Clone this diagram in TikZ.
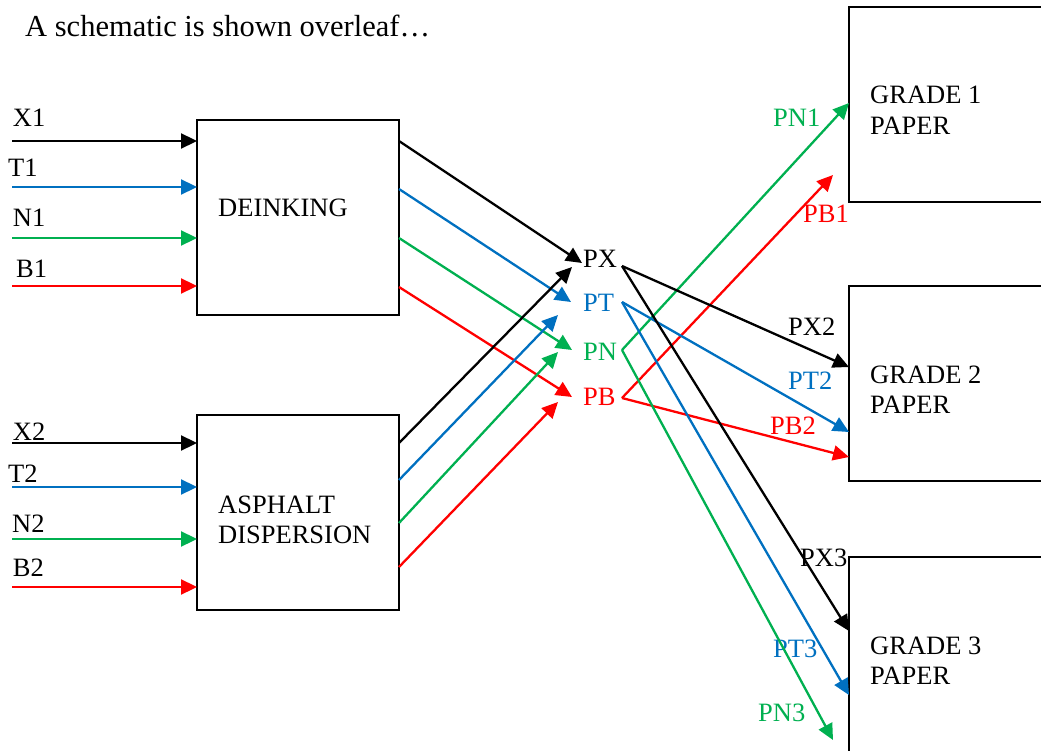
\documentclass[tikz,border=0pt]{standalone}
\usepackage{fontspec}
\setmainfont{Liberation Serif}
\usetikzlibrary{arrows.meta}
\definecolor{cblue}{HTML}{0070C0}
\definecolor{cgreen}{HTML}{00B050}
\definecolor{cred}{HTML}{FF0000}
\begin{document}
\begin{tikzpicture}[x=1pt,y=-1pt,
  box/.style={draw, line width=1.8pt, minimum width=202pt, minimum height=195pt, anchor=north west, inner sep=0pt, outer sep=0pt},
  gbox/.style={draw, line width=1.8pt, minimum width=240pt, minimum height=195pt, anchor=north west, inner sep=0pt, outer sep=0pt},
  lbl/.style={anchor=base west, inner sep=0pt, font=\fontsize{26.5}{30}\selectfont},
  flow/.style={line width=2.3pt, -{Triangle[length=16pt,width=15pt]}},
]
\useasboundingbox (0,0) rectangle (1041,751);
\clip (0,0) rectangle (1041,751);

% title
\node[anchor=base west, inner sep=0pt, font=\fontsize{30.5}{34}\selectfont] (title) at (25,36.5) {A schematic is shown overleaf\ldots};

% process boxes
\node[box] (dk) at (197,120) {};
\node[box] (as) at (197,415) {};
\node[lbl] (dkt) at (218,217) {DEINKING};
\node[lbl] (ast1) at (218,513) {ASPHALT};
\node[lbl] (ast2) at (218,543) {DISPERSION};

% grade boxes
\node[gbox] (g1) at (849,7) {};
\node[gbox] (g2) at (849,286) {};
\node[gbox] (g3) at (849,557) {};
\node[lbl] (g1a) at (870,104) {GRADE 1};
\node[lbl] (g1b) at (870,135) {PAPER};
\node[lbl] (g2a) at (870,383) {GRADE 2};
\node[lbl] (g2b) at (870,413) {PAPER};
\node[lbl] (g3a) at (870,654) {GRADE 3};
\node[lbl] (g3b) at (870,684) {PAPER};

% input labels
\node[lbl] (lX1) at (12.7,127) {X1};
\node[lbl] (lT1) at (8,177) {T1};
\node[lbl] (lN1) at (12.7,227) {N1};
\node[lbl] (lB1) at (16,277) {B1};
\node[lbl] (lX2) at (12.7,440) {X2};
\node[lbl] (lT2) at (8,482) {T2};
\node[lbl] (lN2) at (12,532) {N2};
\node[lbl] (lB2) at (12.7,576) {B2};

% pool labels
\node[lbl] (PX) at (583,268) {PX};
\node[lbl, text=cblue] (PT) at (583,312) {PT};
\node[lbl, text=cgreen] (PN) at (583,360) {PN};
\node[lbl, text=cred] (PB) at (583,405.5) {PB};

% output labels
\node[lbl, text=cgreen] (lPN1) at (773,127) {PN1};
\node[lbl, text=cred] (lPB1) at (803,223) {PB1};
\node[lbl] (lPX2) at (788,335) {PX2};
\node[lbl, text=cblue] (lPT2) at (788,389) {PT2};
\node[lbl, text=cred] (lPB2) at (770,434) {PB2};
\node[lbl] (lPX3) at (800,566) {PX3};
\node[lbl, text=cblue] (lPT3) at (773,657) {PT3};
\node[lbl, text=cgreen] (lPN3) at (758,721) {PN3};

% coordinates
\coordinate (iX1) at (12,141);
\coordinate (iT1) at (12,187);
\coordinate (iN1) at (12,238);
\coordinate (iB1) at (12,286);
\coordinate (iX2) at (12,443);
\coordinate (iT2) at (12,487);
\coordinate (iN2) at (12,539);
\coordinate (iB2) at (12,587);

\coordinate (oX1) at (399,141);
\coordinate (oT1) at (399,189);
\coordinate (oN1) at (399,238);
\coordinate (oB1) at (399,287);
\coordinate (oX2) at (399,443);
\coordinate (oT2) at (399,480);
\coordinate (oN2) at (399,523);
\coordinate (oB2) at (399,567);

\coordinate (tX1) at (582,263);
\coordinate (tX2) at (572,267);
\coordinate (tT1) at (571,302);
\coordinate (tT2) at (558,315);
\coordinate (tN1) at (572,350);
\coordinate (tN2) at (558,352);
\coordinate (tB1) at (572,397);
\coordinate (tB2) at (558,402);

\coordinate (sX) at (622,266);
\coordinate (sT) at (622,302);
\coordinate (sN) at (622,350);
\coordinate (sB) at (622,398);

\coordinate (ePN1) at (849,103);
\coordinate (ePB1) at (833,175);
\coordinate (ePX2) at (849,367);
\coordinate (ePT2) at (849,432);
\coordinate (ePB2) at (849,457);
\coordinate (ePX3) at (849,631);
\coordinate (ePT3) at (849,695);
\coordinate (ePN3) at (833,740);

% inputs
\draw[flow, black] (iX1) -- (iX1 -| dk.west);
\draw[flow, cblue] (iT1) -- (iT1 -| dk.west);
\draw[flow, cgreen] (iN1) -- (iN1 -| dk.west);
\draw[flow, cred] (iB1) -- (iB1 -| dk.west);
\draw[flow, black] (iX2) -- (iX2 -| as.west);
\draw[flow, cblue] (iT2) -- (iT2 -| as.west);
\draw[flow, cgreen] (iN2) -- (iN2 -| as.west);
\draw[flow, cred] (iB2) -- (iB2 -| as.west);

% process outputs to pools
\draw[flow, black] (oX1 -| dk.east) -- (tX1);
\draw[flow, cblue] (oT1 -| dk.east) -- (tT1);
\draw[flow, cgreen] (oN1 -| dk.east) -- (tN1);
\draw[flow, cred] (oB1 -| dk.east) -- (tB1);
\draw[flow, black] (oX2 -| as.east) -- (tX2);
\draw[flow, cblue] (oT2 -| as.east) -- (tT2);
\draw[flow, cgreen] (oN2 -| as.east) -- (tN2);
\draw[flow, cred] (oB2 -| as.east) -- (tB2);

% pools to grades
\draw[flow, cgreen] (sN) -- (ePN1 -| g1.west);
\draw[flow, cred] (sB) -- (ePB1);
\draw[flow, black] (sX) -- (ePX2 -| g2.west);
\draw[flow, cblue] (sT) -- (ePT2 -| g2.west);
\draw[flow, cred] (sB) -- (ePB2 -| g2.west);
\draw[flow, black] (sX) -- (ePX3 -| g3.west);
\draw[flow, cblue] (sT) -- (ePT3 -| g3.west);
\draw[flow, cgreen] (sN) -- (ePN3);
\end{tikzpicture}
\end{document}
